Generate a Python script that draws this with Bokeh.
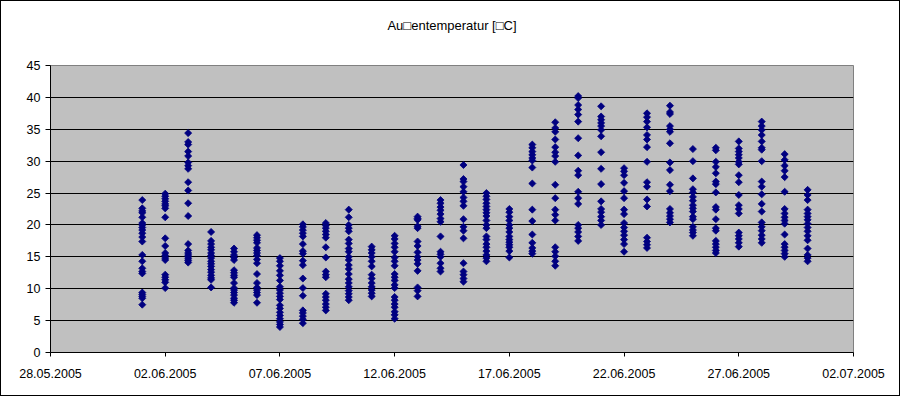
import datetime as dt
from bokeh.plotting import figure
from bokeh.models import ColumnDataSource, FixedTicker, DatetimeTickFormatter, Range1d, Title
from bokeh.embed import file_html
from bokeh.resources import INLINE

title_text = "Au\u25a1entemperatur [\u25a1C]"

# daily series (hourly temperatures), one list per day of June 2005
d01 = [23.9, 22.6, 22.2, 21.9, 21.2, 20.3, 20.0, 19.6, 19.2, 18.7, 18.1, 17.4, 15.3, 14.3, 13.2, 12.7, 12.4, 9.4, 9.1, 8.8, 8.5, 7.5]
d02 = [24.9, 24.5, 24.1, 23.7, 23.3, 23.0, 22.6, 21.2, 17.9, 16.7, 15.6, 15.2, 14.8, 14.5, 12.2, 11.8, 11.4, 11.0, 10.1]
d03 = [34.4, 33.0, 32.6, 31.5, 30.8, 29.8, 29.3, 28.8, 26.7, 25.4, 23.4, 21.4, 17.0, 16.0, 15.6, 15.3, 15.0, 14.7, 14.4, 14.1]
d04 = [18.9, 17.5, 17.0, 16.5, 16.1, 15.6, 15.2, 14.8, 14.3, 13.9, 13.5, 13.0, 12.6, 12.1, 11.7, 11.4, 10.2]
d05 = [16.3, 15.8, 15.3, 14.9, 14.5, 12.9, 12.5, 12.1, 11.8, 10.9, 10.1, 9.8, 9.4, 9.0, 8.5, 8.2, 7.8]
d06 = [18.4, 18.0, 17.6, 17.2, 16.4, 16.0, 15.6, 15.2, 14.6, 14.0, 12.3, 10.9, 10.2, 9.8, 9.4, 9.0, 7.8]
d07 = [14.8, 14.3, 13.6, 12.8, 12.1, 11.3, 10.3, 9.8, 9.3, 8.8, 8.3, 7.4, 6.9, 6.3, 5.8, 5.3, 4.8, 4.4, 4.0]
d08 = [20.1, 19.7, 19.2, 18.7, 18.2, 17.0, 15.9, 15.5, 14.4, 13.7, 11.6, 10.1, 8.9, 6.6, 6.2, 5.7, 5.2, 4.6]
d09 = [20.3, 19.9, 19.5, 19.0, 18.5, 18.0, 16.5, 14.9, 12.7, 12.2, 11.8, 9.2, 8.7, 8.2, 7.6, 7.1, 6.6]
d10 = [22.4, 21.2, 20.0, 19.5, 19.0, 17.7, 17.1, 16.3, 15.8, 15.0, 14.5, 13.7, 13.1, 12.3, 11.5, 10.9, 10.3, 9.7, 9.2, 8.7, 8.2]
d11 = [16.6, 16.1, 15.6, 15.0, 14.3, 13.5, 12.2, 11.6, 10.9, 10.3, 9.8, 9.3, 8.8]
d12 = [18.3, 17.8, 17.1, 16.5, 15.8, 14.9, 14.3, 13.6, 12.3, 11.8, 11.3, 10.6, 10.1, 8.7, 8.2, 7.6, 7.1, 6.4, 5.9, 5.3]
d13 = [21.3, 21.0, 20.8, 19.8, 19.5, 17.4, 16.7, 15.7, 15.0, 14.5, 13.9, 12.8, 10.2, 9.7, 8.8]
d14 = [23.9, 23.4, 22.8, 22.3, 21.7, 21.0, 20.5, 18.2, 15.8, 15.4, 15.0, 14.0, 13.2, 12.7]
d15 = [29.4, 27.2, 26.8, 26.0, 25.2, 24.3, 23.7, 23.0, 20.9, 19.7, 19.1, 17.9, 14.0, 12.7, 12.2, 11.6, 11.1]
d16 = [25.0, 24.5, 24.0, 23.4, 22.9, 22.4, 21.9, 21.4, 20.7, 20.0, 19.5, 18.2, 17.7, 17.0, 16.5, 15.9, 15.3, 14.8, 14.3]
d17 = [22.5, 22.0, 21.3, 20.7, 20.0, 19.5, 18.9, 18.2, 17.7, 17.3, 16.9, 16.5, 15.9, 14.9]
d18 = [32.6, 32.1, 31.5, 31.0, 30.5, 30.1, 29.0, 26.5, 22.4, 20.6, 18.5, 17.2, 16.4, 15.9, 15.5]
d19 = [36.1, 35.2, 34.6, 33.4, 32.2, 31.4, 30.8, 29.9, 26.3, 24.2, 22.4, 21.6, 20.7, 16.5, 15.8, 15.1, 14.3, 13.6]
d20 = [40.2, 39.9, 38.8, 38.1, 37.3, 36.2, 33.6, 30.9, 28.5, 27.8, 25.2, 24.2, 23.3, 20.0, 19.5, 18.9, 18.2, 17.5]
d21 = [38.6, 37.0, 36.5, 36.0, 35.5, 34.9, 33.9, 31.4, 28.8, 26.4, 23.7, 22.5, 22.0, 21.3, 20.7, 20.0]
d22 = [28.9, 28.4, 27.8, 26.6, 25.3, 24.2, 22.4, 21.7, 20.3, 19.6, 19.0, 18.4, 17.7, 17.0, 15.8]
d23 = [37.5, 36.9, 36.2, 35.3, 34.1, 33.4, 32.2, 29.9, 26.7, 26.0, 24.0, 22.9, 18.0, 17.4, 16.9, 16.4]
d24 = [38.7, 37.7, 37.4, 35.5, 35.0, 34.6, 32.8, 29.8, 28.6, 26.3, 25.3, 22.5, 21.9, 21.4, 20.9, 20.4]
d25 = [31.9, 30.0, 27.3, 25.6, 25.1, 24.4, 23.8, 23.1, 22.6, 22.1, 21.3, 20.9, 19.7, 19.2, 18.8, 18.3]
d26 = [32.1, 31.7, 29.9, 29.1, 28.1, 26.8, 26.4, 25.1, 22.8, 22.4, 20.9, 19.5, 19.1, 17.5, 17.0, 16.5, 16.0, 15.6]
d27 = [33.1, 32.0, 31.5, 31.0, 30.5, 29.9, 29.5, 27.8, 26.7, 24.7, 23.1, 22.5, 21.8, 18.8, 18.3, 17.8, 17.2, 16.6]
d28 = [36.2, 35.5, 34.9, 34.1, 33.1, 32.1, 31.8, 30.0, 26.8, 26.0, 24.8, 23.3, 22.1, 20.4, 19.7, 19.1, 18.4, 17.8, 17.2]
d29 = [31.1, 30.2, 29.3, 28.5, 27.5, 25.2, 22.5, 21.8, 21.2, 20.7, 20.2, 18.5, 17.0, 16.5, 16.0, 15.5, 15.0]
d30 = [25.5, 24.7, 23.9, 22.4, 21.8, 21.3, 20.8, 20.2, 19.6, 19.0, 18.3, 17.6, 16.3, 15.3, 14.8, 14.3]

day_series = [d01, d02, d03, d04, d05, d06, d07, d08, d09, d10,
              d11, d12, d13, d14, d15, d16, d17, d18, d19, d20,
              d21, d22, d23, d24, d25, d26, d27, d28, d29, d30]
day_dates = [dt.datetime(2005, 6, i + 1) for i in range(30)]

x_start = dt.datetime(2005, 5, 28)
x_end = dt.datetime(2005, 7, 2)
x_tick_dates = [dt.datetime(2005, 5, 28), dt.datetime(2005, 6, 2), dt.datetime(2005, 6, 7),
                dt.datetime(2005, 6, 12), dt.datetime(2005, 6, 17), dt.datetime(2005, 6, 22),
                dt.datetime(2005, 6, 27), dt.datetime(2005, 7, 2)]
y_ticks = [0, 5, 10, 15, 20, 25, 30, 35, 40, 45]


def ms(d):
    return (d - dt.datetime(1970, 1, 1)).total_seconds() * 1000.0


xs, ys = [], []
for d, vals in zip(day_dates, day_series):
    for v in vals:
        xs.append(ms(d))
        ys.append(v)
src = ColumnDataSource(dict(x=xs, y=ys))

FONT = "Liberation Sans"

p = figure(width=900, height=396, x_axis_type="datetime",
           x_range=Range1d(ms(x_start), ms(x_end)), y_range=Range1d(0, 45),
           output_backend="svg", toolbar_location=None,
           min_border_left=49, min_border_right=48, min_border_top=64, min_border_bottom=45)
p.styles = {"border": "1px solid black"}

p.title.text = title_text
p.title.align = "center"
p.title.text_font = FONT
p.title.text_font_size = "13px"
p.title.text_font_style = "normal"
p.title.text_color = "black"
p.title.standoff = 0

# blank title used as a spacer between the chart title and the plot area
spacer = Title(text=" ", text_font=FONT, text_font_size="13px", standoff=16)
p.add_layout(spacer, "above")

p.background_fill_color = "#C0C0C0"
p.border_fill_color = "white"
p.outline_line_color = "#808080"
p.outline_line_width = 1

p.scatter("x", "y", source=src, marker="square", angle=0.785398, size=5,
          fill_color="#000080", line_color="#000080", line_width=0.8)

p.xaxis.ticker = FixedTicker(ticks=[ms(d) for d in x_tick_dates])
fmt = "%d.%m.%Y"
p.xaxis.formatter = DatetimeTickFormatter(days=fmt, months=fmt, hours=fmt, years=fmt,
                                          minutes=fmt, seconds=fmt, milliseconds=fmt,
                                          minsec=fmt, hourmin=fmt)
p.yaxis.ticker = FixedTicker(ticks=y_ticks)
p.ygrid.ticker = FixedTicker(ticks=y_ticks)
p.xgrid.visible = False
p.ygrid.grid_line_color = "black"
p.ygrid.grid_line_width = 1

for ax in (p.xaxis[0], p.yaxis[0]):
    ax.axis_line_color = "black"
    ax.major_tick_line_color = "black"
    ax.minor_tick_line_color = None
    ax.major_tick_in = 0
    ax.major_label_text_font = FONT
    ax.major_label_text_font_size = "12.5px"
    ax.major_label_text_color = "black"
p.xaxis.major_tick_out = 4
p.xaxis.major_label_standoff = 12
p.yaxis.major_tick_out = 5
p.yaxis.major_label_standoff = 5

open("out.html", "w").write(file_html(p, INLINE))
